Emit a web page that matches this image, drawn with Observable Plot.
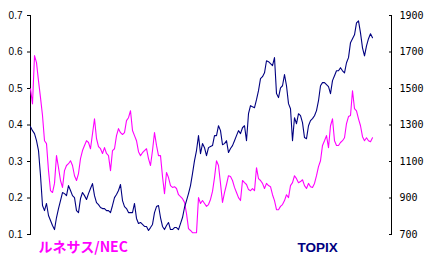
<!DOCTYPE html>
<html><head><meta charset="utf-8">
<script src="https://cdn.jsdelivr.net/npm/d3@7"></script>
<script src="https://cdn.jsdelivr.net/npm/@observablehq/plot@0.6"></script>
<style>body{margin:0;background:#fff}</style>
</head><body><div id="chart"></div>
<script>
const seriesNames = ["ルネサス/NEC", "TOPIX"];
const leftTicks = [0.1, 0.2, 0.3, 0.4, 0.5, 0.6, 0.7];
const rightTicks = [700, 900, 1100, 1300, 1500, 1700, 1900];
const ratio = [
0.499,0.458,0.590,0.571,0.521,0.475,0.426,0.357,0.349,0.275,
0.220,0.215,0.240,0.316,0.283,0.248,0.229,0.275,0.289,0.294,
0.302,0.289,0.261,0.248,0.267,0.308,0.330,0.344,0.357,0.352,
0.335,0.376,0.417,0.363,0.341,0.335,0.322,0.338,0.322,0.316,
0.275,0.330,0.335,0.371,0.390,0.379,0.374,0.379,0.412,0.420,
0.439,0.385,0.371,0.357,0.327,0.316,0.324,0.330,0.335,0.308,
0.289,0.330,0.379,0.344,0.316,0.316,0.259,0.212,0.270,0.256,
0.234,0.229,0.231,0.226,0.209,0.204,0.198,0.188,0.157,0.116,
0.111,0.105,0.105,0.105,0.201,0.185,0.193,0.185,0.177,0.182,
0.196,0.218,0.256,0.302,0.289,0.240,0.188,0.215,0.237,0.261,
0.259,0.248,0.229,0.215,0.201,0.193,0.248,0.242,0.237,0.223,
0.220,0.226,0.220,0.283,0.253,0.248,0.240,0.226,0.240,0.234,
0.231,0.209,0.193,0.168,0.168,0.177,0.182,0.193,0.209,0.201,
0.234,0.242,0.261,0.253,0.242,0.245,0.250,0.234,0.226,0.240,
0.231,0.229,0.240,0.261,0.286,0.302,0.344,0.357,0.371,0.338,
0.398,0.417,0.357,0.344,0.344,0.352,0.357,0.365,0.404,0.423,
0.426,0.494,0.445,0.439,0.417,0.398,0.368,0.357,0.365,0.357,
0.354,0.365];
const topix = [
1291,1269,1253,1214,1160,1023,859,831,870,804,
777,749,727,793,842,886,930,924,913,968,
941,913,902,831,820,897,930,913,892,924,
952,979,913,875,864,848,842,842,831,831,
820,859,902,919,941,974,886,853,842,820,
820,820,870,788,760,766,755,744,744,722,
738,755,820,853,859,793,744,727,749,766,
727,727,738,738,727,760,793,848,886,924,
968,1034,1105,1160,1242,1143,1198,1176,1132,1176,
1182,1187,1242,1242,1296,1269,1192,1198,1214,1149,
1171,1187,1214,1242,1269,1253,1285,1296,1214,1362,
1406,1400,1395,1439,1488,1554,1565,1586,1652,1647,
1636,1625,1669,1472,1450,1504,1515,1576,1515,1417,
1389,1214,1340,1307,1362,1351,1313,1231,1225,1296,
1324,1335,1351,1379,1433,1515,1532,1532,1521,1510,
1472,1543,1570,1597,1597,1614,1597,1586,1641,1669,
1751,1773,1794,1860,1871,1805,1723,1679,1734,1773,
1800,1778];

const l0 = leftTicks[0], l1 = leftTicks[leftTicks.length - 1];
const r0 = rightTicks[0], r1 = rightTicks[rightTicks.length - 1];
const toLeft = v => l0 + (v - r0) * (l1 - l0) / (r1 - r0);
const n = ratio.length;

const chart = Plot.plot({
  width: 432, height: 270,
  marginLeft: 30, marginRight: 41, marginTop: 15, marginBottom: 36,
  x: {domain: [0, n - 1], range: [30, 372], axis: null},
  y: {domain: [l0, l1], axis: null},
  style: {fontFamily: "Liberation Sans", fontSize: "10px", background: "white", color: "black"},
  marks: [
    Plot.frame({anchor: "left", stroke: "black"}),
    Plot.frame({anchor: "right", stroke: "black"}),
    Plot.axisY(leftTicks, {anchor: "left", tickSize: 3, tickPadding: 5, tickFormat: d => d.toFixed(1)}),
    Plot.axisY(leftTicks, {anchor: "right", tickSize: 3, dx: -3, tickFormat: () => ""}),
    Plot.axisY(leftTicks, {anchor: "right", tickSize: 0, tickPadding: 8, fontFamily: "DejaVu Sans Mono",
      tickFormat: d => String(rightTicks[leftTicks.indexOf(d)])}),
    Plot.lineY(ratio, {x: (d, i) => i, y: d => d, stroke: "#ff00ff", strokeWidth: 1.1}),
    Plot.lineY(topix, {x: (d, i) => i, y: d => toLeft(d), stroke: "#000080", strokeWidth: 1.1}),
    Plot.text([seriesNames[0]], {frameAnchor: "bottom-left", dx: 8, dy: 17, textAnchor: "start",
      fill: "#ff00ff", fontWeight: "bold", fontSize: 14, fontFamily: "Noto Sans CJK JP"}),
    Plot.text([seriesNames[1]], {frameAnchor: "bottom-left", dx: 267, dy: 17, textAnchor: "start",
      fill: "#000080", fontWeight: "bold", fontSize: 13.5, fontFamily: "Liberation Sans"})
  ]
});
document.getElementById("chart").appendChild(chart);
</script></body></html>
